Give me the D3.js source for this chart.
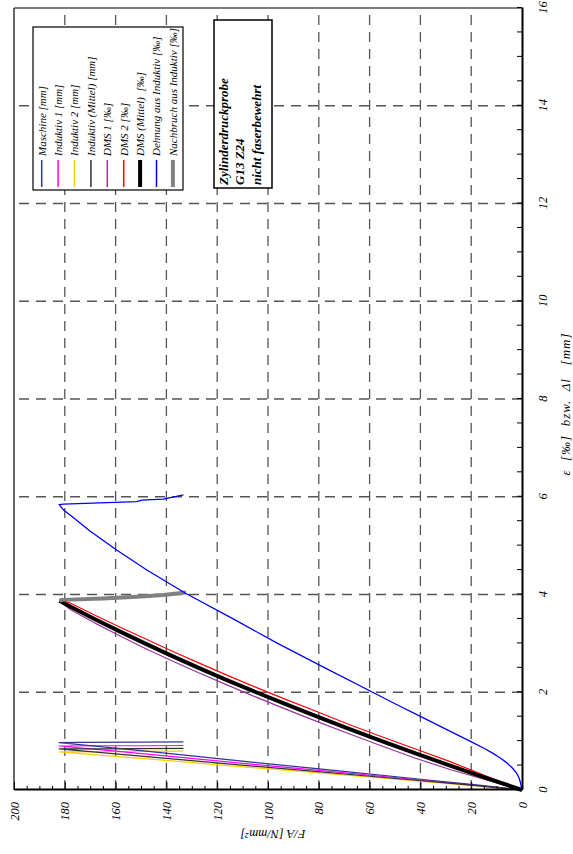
<!DOCTYPE html>
<html><head><meta charset="utf-8">
<script src="https://cdn.jsdelivr.net/npm/d3@7"></script>
<style>
body{margin:0;background:#fff}
svg{display:block}
text{font-family:"Liberation Serif","Times New Roman",serif;font-style:italic;fill:#000}
</style>
</head><body>
<svg id="chart" width="573" height="854"></svg>
<script>
// ---- axis ticks / labels ----
const xMajorTicks = [0,2,4,6,8,10,12,14,16];
const yMajorTicks = [0,20,40,60,80,100,120,140,160,180,200];
const xGridValues = [2,4,6,8,10,12,14];
const yGridValues = [20,40,60,80,100,120,140,160,180];
const xTitle = "ε\u00A0\u00A0[‰]\u00A0\u00A0bzw.\u00A0\u00A0Δl\u00A0\u00A0\u00A0[mm]";
const yTitle = "F/A [N/mm²]";
const boxLines = ["Zylinderdruckprobe","G13 Z24","nicht faserbewehrt"];

// ---- series: [ε or Δl, F/A] ----
const maschine = [[0,0],[0.1,17],[0.2,36],[0.4,74],[0.6,112],[0.8,149],[0.97,182.2],[0.975,175],[0.98,150],[0.985,133.3]];
const induktiv1 = [[0,0],[0.1,19],[0.2,39],[0.4,80],[0.6,121],[0.8,161],[0.90,182.2],[0.905,165],[0.905,150],[0.91,133.3]];
const induktiv2 = [[0,0],[0.1,22],[0.2,45],[0.4,92],[0.6,139],[0.78,182.2],[0.785,165],[0.79,150],[0.795,133.3]];
const induktivMittel = [[0,0],[0.1,20],[0.2,42],[0.4,86],[0.6,130],[0.84,182.2],[0.842,165],[0.845,150],[0.85,133.3]];
const dms1 = [[0,0],[0.21,14.3],[0.42,28.3],[0.65,41.9],[0.9,55.2],[1.15,68.1],[1.4,80.6],[1.65,92.8],[1.9,104.7],[2.15,116.2],[2.4,127.3],[2.65,138.1],[2.9,148.5],[3.16,158.6],[3.42,168.3],[3.69,177.7],[3.84,181.5]];
const dms2 = [[0,0],[0.29,14.3],[0.58,28.3],[0.84,41.9],[1.09,55.2],[1.34,68.1],[1.6,80.6],[1.85,92.8],[2.1,104.7],[2.35,116.2],[2.6,127.3],[2.85,138.1],[3.1,148.5],[3.34,158.6],[3.58,168.3],[3.82,177.7],[3.9,182.0]];
const dmsMittel = [[0,0],[0.25,14.3],[0.5,28.3],[0.75,41.9],[1.0,55.2],[1.25,68.1],[1.5,80.6],[1.75,92.8],[2.0,104.7],[2.25,116.2],[2.5,127.3],[2.75,138.1],[3.0,148.5],[3.25,158.6],[3.5,168.3],[3.75,177.7],[3.87,182.1]];
const dehnungInduktiv = [[0,0],[0.05,0.2],[0.15,0.6],[0.25,1.2],[0.35,2.2],[0.45,3.8],[0.55,5.8],[0.65,8.4],[0.75,11.4],[0.85,14.8],[1.0,20.5],[1.25,30.2],[1.5,39.8],[1.75,49.4],[2.0,58.8],[2.5,77.6],[3.0,96.2],[3.5,113.7],[4.02,132.3],[4.5,147.7],[4.91,159.6],[5.3,170.1],[5.6,177.3],[5.73,180.5],[5.84,182.2],[5.85,180.5],[5.90,151.7],[5.93,149.7],[5.95,141.2],[6.04,133.3]];
const nachbruch = [[3.87,182.1],[3.89,181],[3.92,165],[3.955,151.7],[3.97,147],[3.99,141.2],[4.04,132.3]];

const legendNames = ["Maschine [mm]","Induktiv 1 [mm]","Induktiv 2 [mm]","Induktiv (Mittel) [mm]","DMS 1 [‰]","DMS 2 [‰]","DMS (Mittel)  [‰]","Dehnung aus Induktiv [‰]","Nachbruch aus Induktiv [‰]"];
const seriesColors = ["#333399","#ff00ff","#ffcc00","#333333","#993399","#ff0000","#000000","#0000ff","#808080"];
const seriesWidths = [1.2,1.2,1.2,1.2,1.2,1.2,4,1.3,4];
const seriesData = [maschine,induktiv1,induktiv2,induktivMittel,dms1,dms2,dmsMittel,dehnungInduktiv,nachbruch];

// ---- drawing (landscape frame rotated -90°) ----
const svg = d3.select("#chart");
const g = svg.append("g").attr("transform","translate(0,854) rotate(-90)");
const L = {left:64, right:846, top:14, bottom:522};
const x = d3.scaleLinear().domain([0,16]).range([L.left,L.right]);
const y = d3.scaleLinear().domain([0,200]).range([L.bottom,L.top]);

// grid
const grid = g.append("g");
grid.selectAll(".gx").data(xGridValues).join("line")
  .attr("x1",d=>x(d)).attr("x2",d=>x(d)).attr("y1",L.bottom).attr("y2",L.top)
  .attr("stroke","#555").attr("stroke-width",1.3).attr("stroke-dasharray","10,7");
grid.selectAll(".gy").data(yGridValues).join("line")
  .attr("y1",d=>y(d)).attr("y2",d=>y(d)).attr("x1",L.left).attr("x2",L.right)
  .attr("stroke","#555").attr("stroke-width",1.3).attr("stroke-dasharray","10,7");

// frame (top/right thin)
g.append("line").attr("x1",L.left).attr("x2",L.right).attr("y1",L.top).attr("y2",L.top).attr("stroke","#000").attr("stroke-width",1.2);
g.append("line").attr("x1",L.right).attr("x2",L.right).attr("y1",L.top).attr("y2",L.bottom).attr("stroke","#000").attr("stroke-width",1.2);

// data
const line = d3.line().x(d=>x(d[0])).y(d=>y(d[1]));
const order = [2,1,0,3,4,5,6,8,7];
order.forEach(i=>{
  g.append("path").datum(seriesData[i]).attr("d",line)
   .attr("fill","none").attr("stroke",seriesColors[i]).attr("stroke-width",seriesWidths[i])
   .attr("stroke-linejoin","round");
});

// x axis
const xMinor = d3.range(0,16.01,0.5);
const xAxis = g.append("g").attr("transform",`translate(0,${L.bottom})`)
  .call(d3.axisBottom(x).tickValues(xMinor).tickSize(-5).tickSizeOuter(0).tickPadding(16)
    .tickFormat(d=> xMajorTicks.includes(d) ? d3.format("d")(d) : ""));
xAxis.select(".domain").attr("stroke-width",2);
xAxis.selectAll(".tick line").attr("stroke-width",1);
xAxis.selectAll("text").attr("font-size",12.5).attr("font-family",null);

// y axis minor
const yMinor = d3.range(0,200.1,5).filter(v=>v%20!==0);
const yAxisMinor = g.append("g").attr("transform",`translate(${L.left},0)`)
  .call(d3.axisLeft(y).tickValues(yMinor).tickSize(-4).tickSizeOuter(0).tickFormat(""));
yAxisMinor.select(".domain").remove();
const yAxis = g.append("g").attr("transform",`translate(${L.left},0)`)
  .call(d3.axisLeft(y).tickValues(yMajorTicks).tickSize(-8).tickSizeOuter(0).tickPadding(12).tickFormat(d3.format("d")));
yAxis.select(".domain").attr("stroke-width",2);
yAxis.selectAll("text").attr("font-size",12.5).attr("font-family",null);
g.selectAll(".tick text").style("font-family",'"Liberation Serif","Times New Roman",serif').style("font-style","italic");

// titles
g.append("text").attr("x",(L.left+L.right)/2-5).attr("y",570).attr("text-anchor","middle")
  .attr("font-size",13).style("letter-spacing","1px").text(xTitle);
g.append("text").attr("transform",`translate(20,${(L.top+L.bottom)/2+5}) rotate(-90)`)
  .attr("text-anchor","middle").attr("dy","0.35em").attr("font-size",12.5).text(yTitle);

// legend
const lg = g.append("g");
lg.append("rect").attr("x",664).attr("y",33).attr("width",163).attr("height",150)
  .attr("fill","#fff").attr("stroke","#000").attr("stroke-width",1.2);
legendNames.forEach((n,i)=>{
  const ry = 41.7 + i*16.4;
  lg.append("line").attr("x1",667).attr("x2",694).attr("y1",ry).attr("y2",ry)
    .attr("stroke",seriesColors[i]).attr("stroke-width",Math.max(1.5,seriesWidths[i]));
  lg.append("text").attr("x",698).attr("y",ry).attr("dy","0.35em").attr("font-size",11)
    .style("white-space","pre").text(n);
});

// info box
const bx = g.append("g");
bx.append("rect").attr("x",666).attr("y",214).attr("width",168).attr("height",58)
  .attr("fill","#fff").attr("stroke","#000").attr("stroke-width",1.5);
boxLines.forEach((t,i)=>{
  bx.append("text").attr("x",669).attr("y",[223,239,256][i]).attr("dy","0.35em")
    .attr("font-size",13).attr("font-weight","bold").text(t);
});
</script>
</body></html>
